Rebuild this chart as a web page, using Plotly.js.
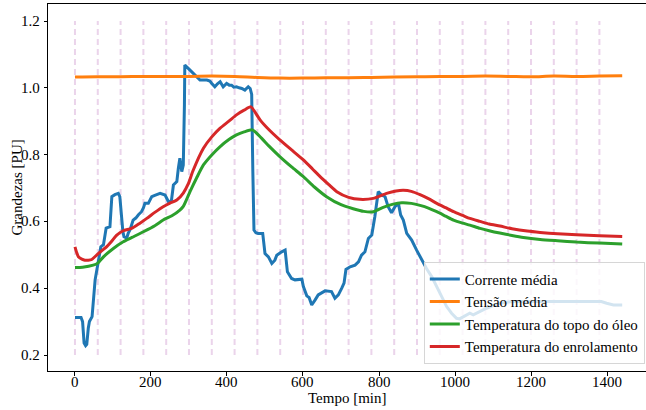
<!DOCTYPE html>
<html>
<head>
<meta charset="utf-8">
<script src="https://cdn.plot.ly/plotly-3.0.1.min.js"></script>
<style>
html,body{margin:0;padding:0;background:#fff}
#chart{width:646px;height:410px}
#chart text{font-family:'Liberation Serif', serif !important;}
</style>
</head>
<body>
<div id="chart"></div>
<script>
// Tempo [min] and values
const currentT = [0,16,20,24,28,31,35,38,45,50,53,59,63,68,75,80,82,92,95,97,105,114,118,122,126,129,136,140,145,153,160,167,175,180,184,193,202,210,224,237,246,250,254,259,268,272,276,281,285,288,289,298,307,316,322,329,347,355,360,368,375,382,390,399,406,412,418,425,432,439,447,456,461,465,468,471,476,482,494,500,509,518,526,531,544,553,559,570,579,597,601,610,616,623,632,640,658,671,675,684,693,702,708,713,724,737,746,754,763,772,781,789,794,798,807,816,824,833,842,851,857,864,873,886,899,912,925,939,952,965,978,991,1004,1012,1022,1039,1048,1065,1083,1100,1118,1135,1153,1180,1206,1230,1259,1285,1311,1340,1364,1385,1399,1417,1440];
const currentV = [0.312,0.312,0.30,0.236,0.228,0.232,0.28,0.30,0.315,0.38,0.425,0.464,0.49,0.524,0.53,0.56,0.58,0.584,0.63,0.674,0.68,0.684,0.674,0.62,0.57,0.554,0.55,0.564,0.575,0.604,0.61,0.62,0.629,0.64,0.654,0.654,0.674,0.678,0.684,0.679,0.659,0.659,0.664,0.709,0.719,0.759,0.789,0.749,0.769,0.95,1.068,1.058,1.048,1.038,1.03,1.023,1.023,1.02,1.013,1.003,1.012,1.018,1.003,1.013,1.008,1.008,1.002,1.003,1.0,0.998,0.993,1.003,0.998,0.98,0.75,0.574,0.566,0.564,0.564,0.504,0.494,0.474,0.484,0.499,0.509,0.514,0.449,0.429,0.425,0.427,0.405,0.377,0.372,0.35,0.365,0.38,0.392,0.392,0.39,0.37,0.38,0.40,0.415,0.456,0.464,0.469,0.479,0.499,0.509,0.549,0.559,0.614,0.66,0.689,0.679,0.674,0.644,0.626,0.644,0.654,0.619,0.604,0.564,0.544,0.514,0.484,0.459,0.434,0.404,0.374,0.345,0.325,0.31,0.308,0.315,0.325,0.32,0.33,0.34,0.348,0.355,0.358,0.36,0.36,0.36,0.362,0.36,0.361,0.36,0.362,0.36,0.36,0.355,0.35,0.35];

const voltageT = [0,60,120,180,240,300,360,420,480,540,600,660,720,780,840,900,960,1020,1080,1140,1200,1260,1320,1380,1440];
const voltageV = [1.032,1.033,1.033,1.034,1.034,1.034,1.035,1.034,1.031,1.029,1.029,1.030,1.030,1.031,1.032,1.033,1.034,1.034,1.035,1.034,1.033,1.035,1.034,1.035,1.036];

const oilT = [0,20,48,60,75,101,127,150,180,210,232,255,276,285,303,320,338,360,382,405,425,445,467,490,510,539,570,601,630,662,700,732,760,785,811,835,860,885,908,930,952,975,996,1020,1039,1066,1090,1118,1150,1180,1224,1270,1320,1380,1440];
const oilV = [0.462,0.463,0.469,0.475,0.494,0.519,0.539,0.552,0.569,0.587,0.604,0.617,0.634,0.645,0.69,0.73,0.769,0.799,0.824,0.845,0.859,0.868,0.874,0.85,0.826,0.794,0.763,0.734,0.703,0.674,0.65,0.638,0.63,0.629,0.642,0.651,0.656,0.654,0.648,0.64,0.629,0.616,0.604,0.595,0.589,0.579,0.572,0.565,0.558,0.552,0.546,0.542,0.538,0.535,0.532];

const windT = [0,5,9,18,26,35,44,57,70,83,96,110,127,149,170,189,210,232,250,268,285,298,310,338,360,382,405,425,445,463,475,487,510,539,570,601,625,645,668,689,720,750,785,820,845,864,885,908,930,952,975,996,1020,1039,1066,1090,1118,1150,1190,1224,1270,1320,1380,1440];
const windV = [0.524,0.505,0.494,0.487,0.484,0.484,0.486,0.499,0.512,0.524,0.54,0.559,0.572,0.579,0.594,0.609,0.627,0.644,0.655,0.664,0.685,0.712,0.75,0.819,0.853,0.879,0.9,0.919,0.933,0.943,0.925,0.904,0.875,0.844,0.814,0.784,0.757,0.734,0.71,0.689,0.672,0.666,0.669,0.684,0.691,0.693,0.69,0.68,0.668,0.654,0.641,0.629,0.618,0.609,0.6,0.592,0.586,0.578,0.571,0.567,0.563,0.56,0.557,0.555];

const markerTimes = [0,60,120,180,240,300,360,420,480,540,600,660,720,780,840,900,960,1020,1080,1140,1200,1260,1320,1380];
const markerRange = [0.2, 1.2];

const xTicks = [0,200,400,600,800,1000,1200,1400];
const yTicks = [0.2,0.4,0.6,0.8,1.0,1.2];

const seriesNames = ['Corrente média','Tensão média','Temperatura do topo do óleo','Temperatura do enrolamento'];
const colors = ['#1f77b4','#ff7f0e','#2ca02c','#d62728'];

const FONT = 'Liberation Serif';
const TXT = {family:FONT, size:15, color:'#000'};

const traces = [
  {x: currentT, y: currentV, name: seriesNames[0], mode:'lines', line:{color:colors[0], width:3}},
  {x: voltageT, y: voltageV, name: seriesNames[1], mode:'lines', line:{color:colors[1], width:3, shape:'spline'}},
  {x: oilT, y: oilV, name: seriesNames[2], mode:'lines', line:{color:colors[2], width:3, shape:'spline', smoothing:0.6}},
  {x: windT, y: windV, name: seriesNames[3], mode:'lines', line:{color:colors[3], width:3, shape:'spline', smoothing:0.6}}
];

const shapes = markerTimes.map(t => ({
  type:'line', xref:'x', yref:'y', x0:t, x1:t, y0:markerRange[0], y1:markerRange[1],
  line:{color:'rgba(215,170,215,0.5)', width:2, dash:'6px,4px'}, layer:'below'
}));

const tickAnnX = xTicks.map(v => ({text:String(v), xref:'x', yref:'paper', x:v, y:0, yshift:-11,
  xanchor:'center', yanchor:'middle', showarrow:false, font:TXT}));
const tickAnnY = yTicks.map(v => ({text:v.toFixed(1), xref:'paper', yref:'y', x:0, y:v, xshift:-6,
  xanchor:'right', yanchor:'middle', showarrow:false, font:TXT}));

const layout = {
  width:646, height:410,
  margin:{l:48, r:0, t:4, b:39},
  paper_bgcolor:'#fff', plot_bgcolor:'#fff',
  font:TXT,
  showlegend:true,
  legend:{x:0.998, xanchor:'right', y:0.02, yanchor:'bottom', bgcolor:'rgba(255,255,255,0.8)',
          bordercolor:'#d6d6d6', borderwidth:1, font:TXT, tracegroupgap:0},
  xaxis:{range:[-71,1502.6], showgrid:false, zeroline:false, showline:true, linecolor:'#000', linewidth:1,
         mirror:true, ticks:'outside', ticklen:3.5, tickcolor:'#000', tickvals:xTicks, showticklabels:false},
  yaxis:{range:[0.1521,1.2509], showgrid:false, zeroline:false, showline:true, linecolor:'#000', linewidth:1,
         ticks:'outside', ticklen:3.5, tickcolor:'#000', tickvals:yTicks, showticklabels:false},
  annotations:[
    ...tickAnnX, ...tickAnnY,
    {text:'Tempo [min]', xref:'paper', yref:'paper', x:0.5, y:0, yshift:-27, xanchor:'center', yanchor:'middle',
     showarrow:false, font:TXT},
    {text:'Grandezas [PU]', xref:'paper', yref:'paper', x:0, y:0.5, xshift:-32, textangle:-90, xanchor:'center', yanchor:'middle',
     showarrow:false, font:TXT}
  ],
  shapes: shapes
};

Plotly.newPlot('chart', traces, layout, {displayModeBar:false, staticPlot:true});
</script>
</body>
</html>
